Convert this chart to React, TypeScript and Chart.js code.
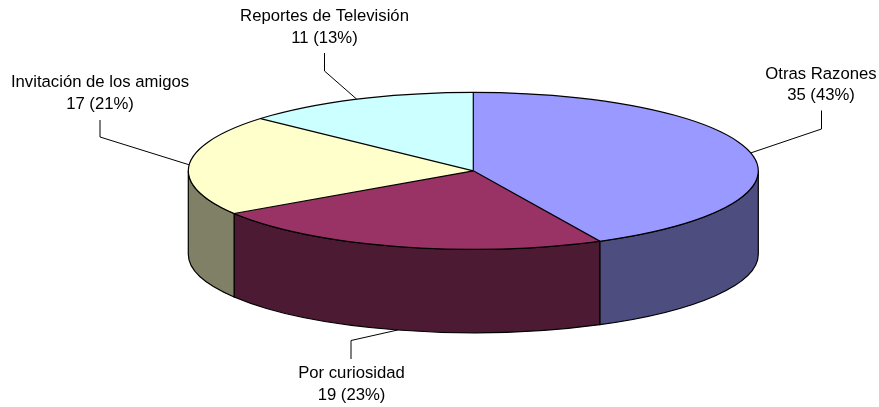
import React, { useEffect, useRef } from "react";
import { Chart, registerables } from "chart.js";

Chart.register(...registerables);

const categories = ["Otras Razones", "Por curiosidad", "Invitación de los amigos", "Reportes de Televisión"];
const values = [35, 19, 17, 11];
const percentLabels = ["43%", "23%", "21%", "13%"];
const topColors = ["#9999FF", "#993366", "#FFFFCC", "#CCFFFF"];
const sideColors = ["#4D4D80", "#4D1A33", "#808066", "#668080"];

const RADIUS_X = 285;
const RADIUS_Y = 78.5;
const DEPTH = 83.5;
const LINE_COLOR = "#000000";

// label centre x, first and second text line centre y, elbow of the leader (x, y start, y elbow)
const labelLayout = [
  { x: 821, y1: 74, y2: 95, lx: 821.5, ly0: 110.5, ly1: 129 },
  { x: 351.5, y1: 373, y2: 395, lx: 351, ly0: 359, ly1: 340.5 },
  { x: 100, y1: 82, y2: 104, lx: 100, ly0: 120, ly1: 137 },
  { x: 324.5, y1: 16, y2: 38, lx: 324.5, ly0: 53, ly1: 71 },
];

const pie3d = {
  id: "pie3d",
  beforeDatasetsDraw(chart: any) {
    const ctx = chart.ctx;
    const arcs = chart.getDatasetMeta(0).data;
    ctx.save();
    arcs.forEach((arc: any, i: number) => {
      const a0 = Math.max(arc.startAngle, 0);
      const a1 = Math.min(arc.endAngle, Math.PI);
      if (a1 <= a0) return;
      ctx.beginPath();
      ctx.ellipse(arc.x, arc.y, RADIUS_X, RADIUS_Y, 0, a0, a1);
      ctx.ellipse(arc.x, arc.y + DEPTH, RADIUS_X, RADIUS_Y, 0, a1, a0, true);
      ctx.closePath();
      ctx.fillStyle = sideColors[i];
      ctx.fill();
      ctx.lineWidth = 1.2;
      ctx.strokeStyle = LINE_COLOR;
      ctx.stroke();
    });
    ctx.restore();
    const first = arcs[0];
    ctx.save();
    ctx.translate(first.x, first.y);
    ctx.scale(1, RADIUS_Y / RADIUS_X);
    ctx.translate(-first.x, -first.y);
  },
  afterDatasetsDraw(chart: any) {
    const ctx = chart.ctx;
    ctx.restore();
    const arcs = chart.getDatasetMeta(0).data;
    ctx.save();
    ctx.strokeStyle = LINE_COLOR;
    ctx.lineWidth = 1.2;
    arcs.forEach((arc: any) => {
      ctx.beginPath();
      ctx.moveTo(arc.x, arc.y);
      ctx.lineTo(arc.x + RADIUS_X * Math.cos(arc.startAngle), arc.y + RADIUS_Y * Math.sin(arc.startAngle));
      ctx.stroke();
    });
    const c = arcs[0];
    ctx.beginPath();
    ctx.ellipse(c.x, c.y, RADIUS_X, RADIUS_Y, 0, 0, Math.PI * 2);
    ctx.stroke();

    ctx.lineWidth = 1;
    ctx.fillStyle = "#000000";
    ctx.font = '16.7px "Liberation Sans", Arial, sans-serif';
    ctx.textAlign = "center";
    ctx.textBaseline = "middle";
    arcs.forEach((arc: any, i: number) => {
      const mid = (arc.startAngle + arc.endAngle) / 2;
      const px = arc.x + RADIUS_X * Math.cos(mid);
      let py = arc.y + RADIUS_Y * Math.sin(mid);
      if (Math.sin(mid) > 0.5) py += DEPTH;
      const l = labelLayout[i];
      ctx.beginPath();
      ctx.moveTo(l.lx, l.ly0);
      ctx.lineTo(l.lx, l.ly1);
      ctx.lineTo(px, py);
      ctx.stroke();
      ctx.fillText(categories[i], l.x, l.y1);
      ctx.fillText(`${values[i]} (${percentLabels[i]})`, l.x, l.y2);
    });
    ctx.restore();
  },
};

export default function App() {
  const ref = useRef<HTMLCanvasElement>(null);
  useEffect(() => {
    document.body.style.margin = "0";
    const chart = new Chart(ref.current!, {
      type: "pie",
      data: {
        labels: categories,
        datasets: [{ data: values, backgroundColor: topColors, borderWidth: 0, clip: false } as any],
      },
      options: {
        animation: false,
        responsive: false,
        radius: RADIUS_X,
        layout: { padding: { left: 67.6, bottom: 65.4, top: 0, right: 0 } },
        plugins: { legend: { display: false }, tooltip: { enabled: false } },
      } as any,
      plugins: [pie3d],
    });
    return () => chart.destroy();
  }, []);
  return (
    <div style={{ width: 879, height: 407 }}>
      <canvas ref={ref} width={879} height={407} style={{ display: "block" }} />
    </div>
  );
}
